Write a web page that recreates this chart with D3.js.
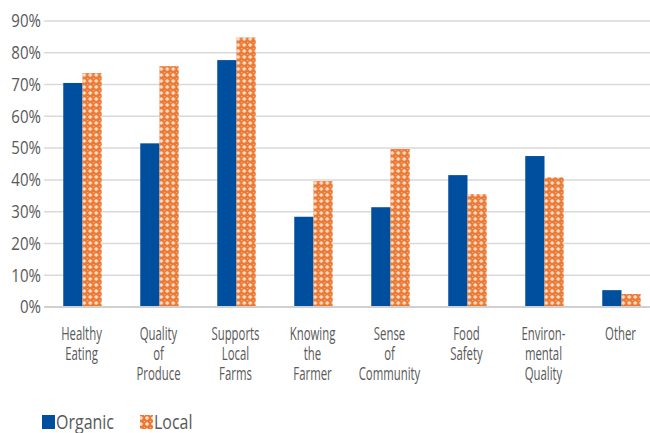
<!DOCTYPE html>
<html>
<head>
<meta charset="utf-8">
<script src="https://cdn.jsdelivr.net/npm/d3@7"></script>
<style>
  html, body { margin: 0; padding: 0; background: #fff; }
  svg { display: block; }
  text { font-family: "Open Sans", "Noto Sans", sans-serif; fill: #595959; font-weight: 500; }
</style>
</head>
<body>
<svg id="chart" width="650" height="433"></svg>
<script>
// Reasons for buying, share of respondents (%)
const categories = [
  ["Healthy", "Eating"],
  ["Quality", "of", "Produce"],
  ["Supports", "Local", "Farms"],
  ["Knowing", "the", "Farmer"],
  ["Sense", "of", "Community"],
  ["Food", "Safety"],
  ["Environ-", "mental", "Quality"],
  ["Other"]
];
const seriesNames = ["Organic", "Local"];
const organic = [70.5, 51.5, 77.7, 28.4, 31.4, 41.5, 47.5, 5.3];
const local   = [73.6, 75.8, 84.8, 39.6, 49.7, 35.5, 40.8, 4.1];
const yTicks = [0, 10, 20, 30, 40, 50, 60, 70, 80, 90];

const svg = d3.select("#chart");
const margin = { left: 44, top: 21, bottom: 307 };
const plotRight = 660;

const x = d3.scaleBand()
  .domain(d3.range(categories.length))
  .range([margin.left, plotRight])
  .paddingInner(0.5)
  .paddingOuter(0.25);
const xSub = d3.scaleBand().domain([0, 1]).range([0, x.bandwidth()]);
const y = d3.scaleLinear().domain([0, 90]).range([margin.bottom, margin.top]);

// Confetti pattern for the "Local" series
const defs = svg.append("defs");
const pat = defs.append("pattern")
  .attr("id", "localPat")
  .attr("patternUnits", "userSpaceOnUse")
  .attr("width", 6).attr("height", 6);
pat.append("rect").attr("width", 6).attr("height", 6).attr("fill", "#EB7A35");
pat.append("path")
  .attr("d", "M2.5,1h1v1.5h1.5v1h-1.5v1.5h-1v-1.5h-1.5v-1h1.5z")
  .attr("fill", "#fff");
pat.append("rect").attr("x", 0).attr("y", 0).attr("width", 1).attr("height", 1).attr("fill", "#f6c3a3");

// Gridlines
svg.append("g")
  .selectAll("line")
  .data(yTicks.filter(d => d > 0))
  .join("line")
  .attr("x1", margin.left).attr("x2", 650)
  .attr("y1", d => y(d)).attr("y2", d => y(d))
  .attr("stroke", "#d9d9d9").attr("stroke-width", 1.5);

// Y axis labels
svg.append("g")
  .selectAll("g")
  .data(yTicks)
  .join("g")
  .attr("transform", d => `translate(41,${y(d)}) scale(0.86,1)`)
  .append("text")
  .attr("text-anchor", "end")
  .attr("dy", "0.36em")
  .attr("font-size", 17.5)
  .text(d => d + "%");

// Bars
const groups = svg.append("g")
  .selectAll("g")
  .data(categories.map((c, i) => i))
  .join("g")
  .attr("transform", i => `translate(${x(i)},0)`);

groups.append("rect")
  .attr("x", xSub(0)).attr("width", xSub.bandwidth())
  .attr("y", i => y(organic[i])).attr("height", i => y(0) - y(organic[i]))
  .attr("fill", "#004F9E");

groups.append("rect")
  .attr("x", xSub(1)).attr("width", xSub.bandwidth())
  .attr("y", i => y(local[i])).attr("height", i => y(0) - y(local[i]))
  .attr("fill", "url(#localPat)");

// Baseline
svg.append("line")
  .attr("x1", margin.left).attr("x2", 650)
  .attr("y1", y(0)).attr("y2", y(0))
  .attr("stroke", "#d0d0d0").attr("stroke-width", 2);

// Category labels
const labels = svg.append("g")
  .selectAll("g")
  .data(categories)
  .join("g")
  .attr("transform", (d, i) => `translate(${x(i) + x.bandwidth() / 2 - 1},339.5) scale(0.65,1)`)
  .append("text")
  .attr("text-anchor", "middle")
  .attr("font-size", 17.5);
labels.selectAll("tspan")
  .data(d => d)
  .join("tspan")
  .attr("x", 0)
  .attr("y", (d, j) => j * 20.5)
  .text(d => d);

// Legend
const legend = svg.append("g").attr("transform", "translate(42,415)");
const legendX = [0, 98];
seriesNames.forEach((name, i) => {
  legend.append("rect")
    .attr("x", legendX[i]).attr("y", 0)
    .attr("width", 13).attr("height", 14)
    .attr("fill", i === 0 ? "#004F9E" : "url(#localPat)");
  legend.append("g")
    .attr("transform", `translate(${legendX[i] + 14},14) scale(0.82,1)`)
    .append("text")
    .attr("font-size", 19.5)
    .text(name);
});
</script>
</body>
</html>
